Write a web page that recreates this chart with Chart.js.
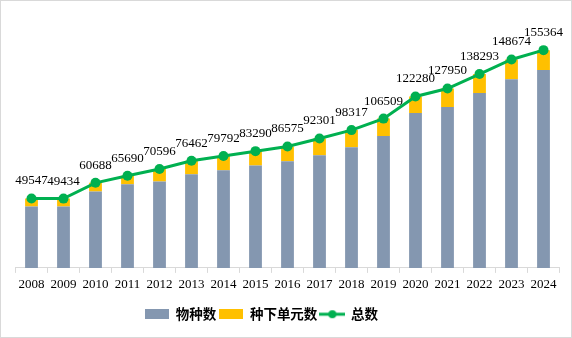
<!DOCTYPE html>
<html>
<head>
<meta charset="utf-8">
<script src="https://cdn.jsdelivr.net/npm/chart.js@4.4.1/dist/chart.umd.min.js"></script>
<style>
  body { margin: 0; background: #fff; }
  #wrap { width: 572px; height: 338px; border: 1px solid #d9d9d9; box-sizing: border-box; }
</style>
</head>
<body>
<div id="wrap"><canvas id="myChart" width="570" height="336"></canvas></div>
<script>
// years on the x axis
let years = ['2008', '2009', '2010', '2011', '2012', '2013', '2014', '2015', '2016',
  '2017', '2018', '2019', '2020', '2021', '2022', '2023', '2024']

// 物种数
let species = [43800, 43800, 54500, 59600, 61700, 66900, 69600, 73100, 76000,
  80300, 86000, 94100, 110500, 114800, 124800, 134600, 141100]

// 种下单元数 (yellow part on top)
let infra = [5747, 5634, 6188, 6090, 8896, 9562, 10192, 10190, 10575,
  12001, 12317, 12409, 11780, 13150, 13493, 14074, 14264]

// 总数 (labels on the line)
let totals = [49547, 49434, 60688, 65690, 70596, 76462, 79792, 83290, 86575,
  92301, 98317, 106509, 122280, 127950, 138293, 148674, 155364]

let grey = '#8497b0'
let yellow = '#ffc000'
let green = '#00b050'

// little pictures for the legend
function boxImg(color) {
  let c = document.createElement('canvas')
  c.width = 24; c.height = 10
  let g = c.getContext('2d')
  g.fillStyle = color
  g.fillRect(0, 0, 24, 10)
  return c
}
function lineImg() {
  let c = document.createElement('canvas')
  c.width = 26; c.height = 10
  let g = c.getContext('2d')
  g.strokeStyle = green
  g.lineWidth = 3
  g.beginPath(); g.moveTo(0, 5); g.lineTo(26, 5); g.stroke()
  g.fillStyle = green
  g.beginPath(); g.arc(13, 5, 4, 0, Math.PI * 2); g.fill()
  return c
}
let legendImgs = [boxImg(grey), boxImg(yellow), lineImg()]

// labels above the line points
const lineLabels = {
  id: 'lineLabels',
  afterDatasetsDraw(chart) {
    let meta = chart.getDatasetMeta(2)
    let ctx = chart.ctx
    ctx.save()
    ctx.font = '13px "Liberation Serif"'
    ctx.fillStyle = '#000'
    ctx.textAlign = 'center'
    ctx.textBaseline = 'middle'
    meta.data.forEach((pt, i) => {
      ctx.fillText(String(totals[i]), pt.x, pt.y - 17.5)
    })
    ctx.restore()
  }
}

// legend in the reference sits a bit left of centre
const nudgeLegend = {
  id: 'nudgeLegend',
  afterLayout(chart) {
    chart.legend.left -= 26
    chart.legend.right -= 26
  }
}

const ctx = document.getElementById('myChart')

new Chart(ctx, {
  type: 'bar',
  data: {
    labels: years,
    datasets: [
      { label: '物种数', data: species, backgroundColor: grey, stack: 'bars', order: 2 },
      { label: '种下单元数', data: infra, backgroundColor: yellow, stack: 'bars', order: 2 },
      {
        label: '总数', type: 'line', data: totals, stack: 'line', order: 1,
        borderColor: green, backgroundColor: green, borderWidth: 3,
        pointRadius: 5, pointBackgroundColor: green, pointBorderWidth: 0,
        tension: 0
      }
    ]
  },
  options: {
    responsive: false,
    animation: false,
    layout: { padding: { left: 14.5, right: 11.5, top: 14.6, bottom: 6 } },
    scales: {
      x: {
        stacked: true,
        grid: { drawOnChartArea: false, drawTicks: true, tickLength: 5, color: '#d9d9d9' },
        border: { display: true, color: '#d9d9d9' },
        ticks: { color: '#000', font: { family: 'Liberation Serif', size: 13 }, padding: 4, maxRotation: 0 },
        afterFit: (scale) => { scale.height += 8 }
      },
      y: {
        stacked: true,
        display: false,
        min: 0,
        max: 180000
      }
    },
    datasets: { bar: { categoryPercentage: 0.8, barPercentage: 0.5 } },
    plugins: {
      tooltip: { enabled: false },
      legend: {
        position: 'bottom',
        labels: {
          usePointStyle: true,
          pointStyleWidth: 24,
          padding: 3,
          color: '#000',
          font: { family: 'Noto Sans CJK SC', size: 13.5, weight: 'bold' },
          generateLabels: (chart) => chart.data.datasets.map((ds, i) => ({
            text: ds.label,
            pointStyle: legendImgs[i],
            datasetIndex: i,
            fontColor: '#000',
            lineWidth: 0
          }))
        }
      }
    }
  },
  plugins: [lineLabels, nudgeLegend]
});
</script>
</body>
</html>
